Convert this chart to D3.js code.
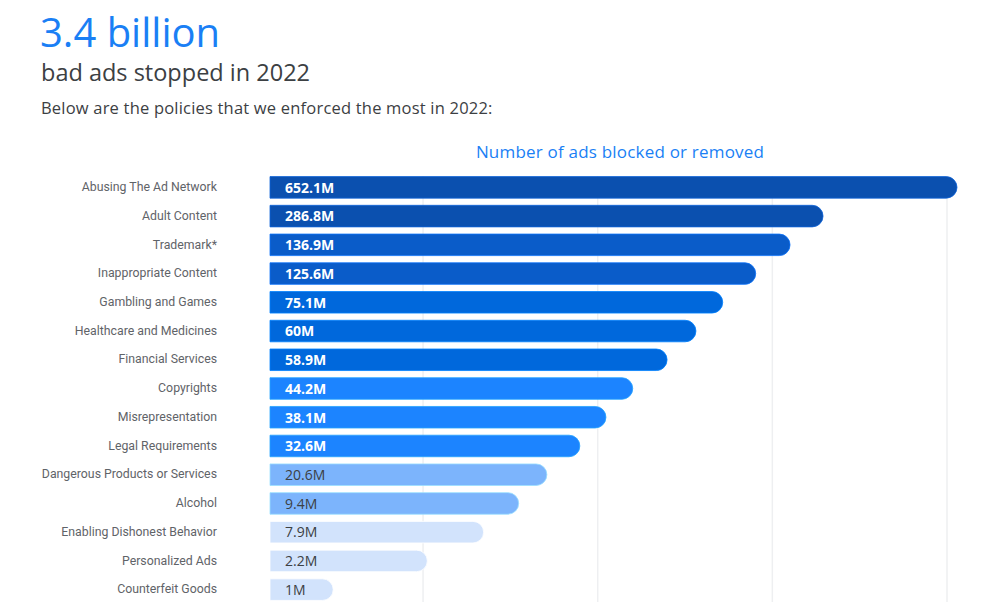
<!DOCTYPE html>
<html>
<head>
<meta charset="utf-8">
<script src="https://cdn.jsdelivr.net/npm/d3@7"></script>
<style>
  body { margin: 0; background: #fff; }
  svg { display: block; font-family: "Open Sans", Roboto, sans-serif; }
</style>
</head>
<body>
<div class="canvas"></div>
<script>
// policies, top to bottom
const policies = [
  'Abusing The Ad Network', 'Adult Content', 'Trademark*', 'Inappropriate Content',
  'Gambling and Games', 'Healthcare and Medicines', 'Financial Services', 'Copyrights',
  'Misrepresentation', 'Legal Requirements', 'Dangerous Products or Services', 'Alcohol',
  'Enabling Dishonest Behavior', 'Personalized Ads', 'Counterfeit Goods'
];
// value labels shown on the bars
const valueLabels = ['652.1M', '286.8M', '136.9M', '125.6M', '75.1M', '60M', '58.9M', '44.2M',
  '38.1M', '32.6M', '20.6M', '9.4M', '7.9M', '2.2M', '1M'];
// drawn bar length (% of longest bar)
const barLength = [100, 80.5, 75.7, 70.7, 65.9, 62.0, 57.8, 52.8, 48.9, 45.1, 40.3, 36.2, 31.1, 22.9, 9.2];
// shade group of each bar
const shade = [0, 0, 1, 1, 2, 2, 2, 3, 3, 3, 4, 4, 5, 5, 5];
const gridTicks = [1, 2, 3, 4];

const palette = ['#0b50af', '#0a5cc9', '#0068dc', '#1c84ff', '#7cb4fc', '#d2e3fc'];

const svg = d3.select('.canvas')
  .append('svg')
    .attr('width', 1000)
    .attr('height', 610);

// headings
svg.append('text')
  .attr('x', 40).attr('y', 47)
  .attr('fill', '#1a7ff5')
  .style('font-size', '40px')
  .text('3.4 billion');

svg.append('text')
  .attr('x', 41).attr('y', 81)
  .attr('fill', '#3c4043')
  .style('font-size', '23.5px')
  .text('bad ads stopped in 2022');

svg.append('text')
  .attr('x', 41).attr('y', 114)
  .attr('fill', '#3c4043')
  .style('font-size', '16.5px')
  .style('letter-spacing', '0.2px')
  .text('Below are the policies that we enforced the most in 2022:');

svg.append('text')
  .attr('x', 620).attr('y', 158)
  .attr('fill', '#1a7ff5')
  .attr('text-anchor', 'middle')
  .style('font-size', '17px')
  .style('letter-spacing', '0.2px')
  .text('Number of ads blocked or removed');

// scales
const x = d3.scaleLinear()
  .domain([0, 100])
  .range([270, 957]);

const grid = d3.scaleLinear()
  .domain([0, 4])
  .range([248.4, 947]);

const y = d3.scaleBand()
  .domain(policies)
  .range([173, 604])
  .paddingInner(0.25)
  .paddingOuter(0.125);

// gridlines
svg.append('g')
  .selectAll('line')
  .data(gridTicks)
  .enter()
  .append('line')
    .attr('x1', d => grid(d))
    .attr('x2', d => grid(d))
    .attr('y1', 176)
    .attr('y2', 602)
    .attr('stroke', '#eeeff1')
    .attr('stroke-width', 1.5);

// category labels
svg.append('g')
  .selectAll('text')
  .data(policies)
  .enter()
  .append('text')
    .attr('x', 217)
    .attr('y', d => y(d) + y.bandwidth() / 2)
    .attr('dy', '0.3em')
    .attr('text-anchor', 'end')
    .attr('fill', '#5f6368')
    .style('font-family', 'Roboto, sans-serif')
    .style('font-size', '12.3px')
    .text(d => d);

// bars: square on the left, round on the right
const h = y.bandwidth();
const r = h / 2;
const barPath = (x0, x1, top) => {
  const w = x1 - x0;
  const rr = Math.min(r, w);
  return `M${x0},${top}H${x1 - rr}A${rr},${r} 0 0 1 ${x1},${top + r}` +
    `A${rr},${r} 0 0 1 ${x1 - rr},${top + h}H${x0}Z`;
};

svg.append('g')
  .selectAll('path')
  .data(policies)
  .enter()
  .append('path')
    .attr('d', (d, i) => barPath(x(0), x(barLength[i]), y(d)))
    .attr('fill', (d, i) => palette[shade[i]])
    .attr('stroke', (d, i) => d3.color(palette[shade[i]]).brighter(0.6))
    .attr('stroke-width', 0.8);

// value labels inside bars
svg.append('g')
  .selectAll('text')
  .data(policies)
  .enter()
  .append('text')
    .attr('x', x(0) + 15)
    .attr('y', d => y(d) + y.bandwidth() / 2)
    .attr('dy', '0.38em')
    .attr('fill', (d, i) => shade[i] >= 4 ? '#3c4043' : '#ffffff')
    .style('font-size', '14px')
    .style('font-weight', (d, i) => shade[i] >= 4 ? 500 : 700)
    .text((d, i) => valueLabels[i]);
</script>
</body>
</html>
